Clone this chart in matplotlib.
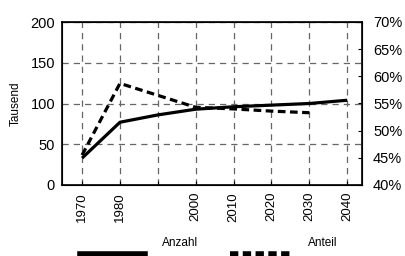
import matplotlib
matplotlib.use('Agg')
import matplotlib.pyplot as plt
from matplotlib.lines import Line2D

# Data
years = [1970, 1980, 1990, 2000, 2010, 2020, 2030, 2040]
anzahl = [33, 77, 86, 93, 96, 98, 100, 104]          # Tausend
years_ant = [1970, 1980, 1990, 2000, 2010, 2020, 2030]
anteil = [45.5, 58.7, 56.5, 54.3, 54.0, 53.6, 53.3]  # %
xticks = [1970, 1980, 1990, 2000, 2010, 2020, 2030, 2040]
xlabels = ['1970', '1980', '', '2000', '2010', '2020', '2030', '2040']

plt.rcParams['font.family'] = ['Liberation Sans', 'DejaVu Sans']
fig = plt.figure(figsize=(4.06, 2.56), dpi=100)
ax = fig.add_axes([62/406, 1-185/256, 300/406, 163/256])

ax.plot(years, anzahl, color='k', lw=2.3, solid_capstyle='butt')
ax.set_xlim(1964.7, 2043.9)
ax.set_ylim(0, 200)
ax.set_yticks([0, 50, 100, 150, 200])
ax.set_xticks(xticks)
ax.set_xticklabels(xlabels, rotation=90, fontsize=9.5)
ax.tick_params(axis='y', labelsize=10.5, length=0, pad=5)
ax.tick_params(axis='x', length=3, direction='in', pad=5)
ax.grid(True, color='#666666', ls=(0, (5, 4)), lw=0.9)
ax.set_ylabel('Tausend', fontsize=8.5, labelpad=6)
for s in ax.spines.values():
    s.set_linewidth(1.2)

ax2 = ax.twinx()
ax2.plot(years_ant, anteil, color='k', lw=2.3, ls=(0, (2.4, 1.4)))
ax2.set_ylim(40, 70)
ax2.set_yticks([40, 45, 50, 55, 60, 65, 70])
ax2.set_yticklabels([f'{v}%' for v in range(40, 75, 5)])
ax2.tick_params(axis='y', labelsize=10.5, direction='in', length=3, pad=8)

# Legend below
fig.add_artist(Line2D([80/406, 145/406], [1-254/256]*2, color='k', lw=4))
fig.text(162/406, 1-243/256, 'Anzahl', fontsize=8.5, va='center')
fig.add_artist(Line2D([230/406, 290/406], [1-254/256]*2, color='k', lw=4,
                      ls=(0, (1.5, 0.8))))
fig.text(308/406, 1-243/256, 'Anteil', fontsize=8.5, va='center')

fig.savefig('out.png', dpi=100)
